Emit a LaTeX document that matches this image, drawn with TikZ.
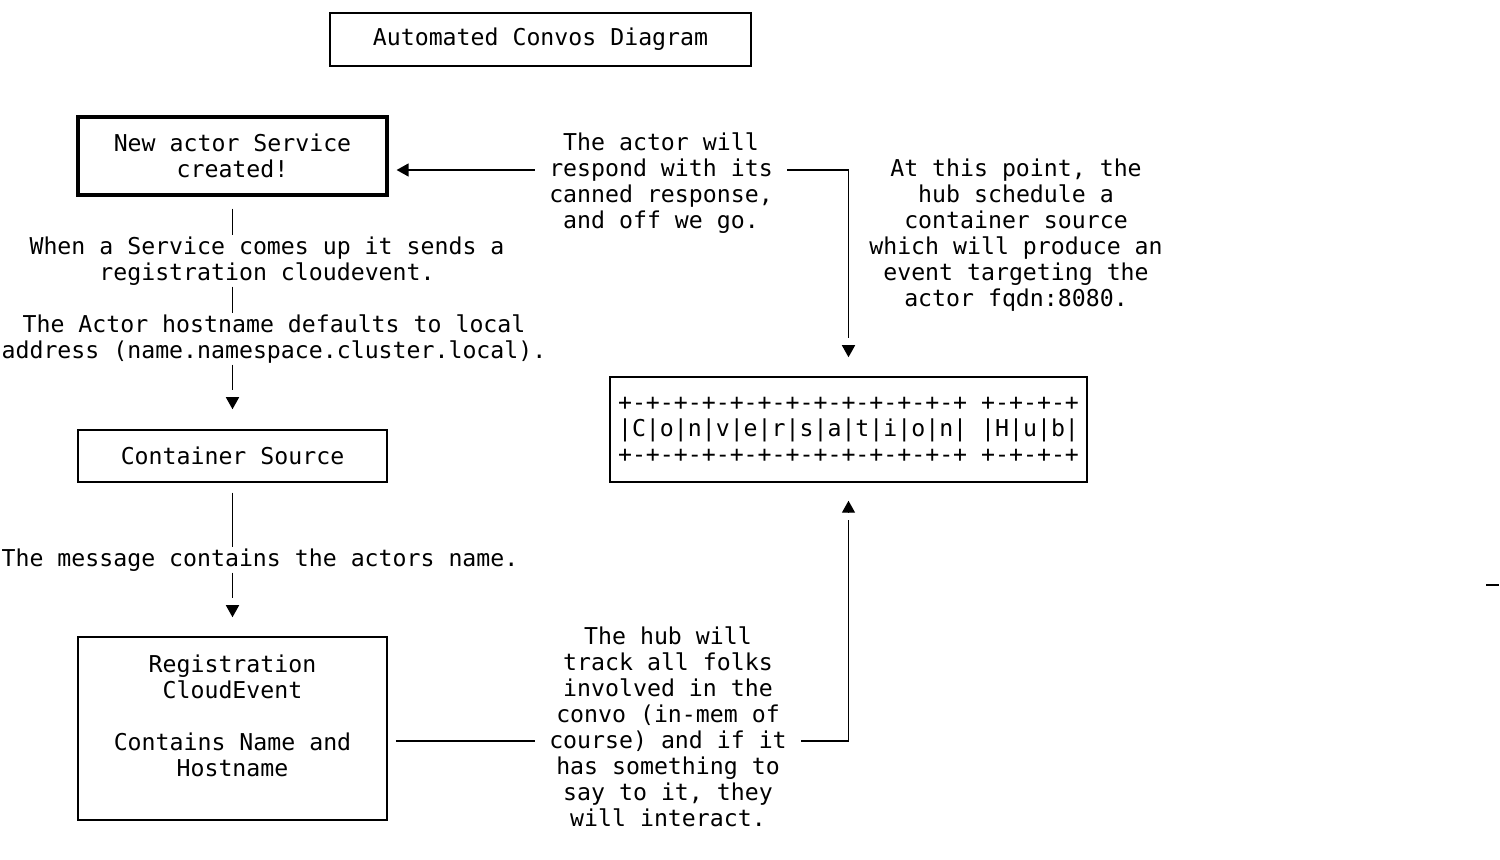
\documentclass[tikz,border=0pt]{standalone}
\usepackage{fontspec}
\setmonofont{DejaVu Sans Mono}
\usetikzlibrary{arrows.meta}

\begin{document}
\begin{tikzpicture}[x=0.5pt, y=-0.5pt, font=\ttfamily\fontsize{11.6}{13}\selectfont,
    box/.style = {draw, line width=0.75pt, align=center, inner sep=0pt},
    note/.style = {align=center, inner xsep=3pt, inner ysep=0.5pt},
    wire/.style = {line width=0.7pt},
    tip/.style = {-{Triangle[width=6.5pt,length=6pt]}},
    vtip/.style = {-{Rectangle[color=white,fill=white,length=3.5pt,width=0.1pt] Triangle[width=6.5pt,length=6pt]}}]
  \useasboundingbox (0,0) rectangle (1500,860);

  %% boxes
  \node[box, minimum width=210.5pt, minimum height=26.5pt] (title) at (540.5,39.5)
       {Automated Convos Diagram};
  \node[box, line width=1.6pt, minimum width=154.5pt, minimum height=39pt] (newactor) at (232.5,156)
       {New actor Service\\created!};
  \node[box, minimum width=154.5pt, minimum height=26pt] (container) at (232.5,456)
       {Container Source};
  \node[box, minimum width=154.5pt, minimum height=91.5pt] (reg) at (232.5,728.5)
       {Registration\\CloudEvent\\ \\Contains Name and\\Hostname\\ };
  \node[box, minimum width=238.5pt, minimum height=52.5pt] (hub) at (848.5,429.5)
       {+-+-+-+-+-+-+-+-+-+-+-+-+ +-+-+-+\\|C|o|n|v|e|r|s|a|t|i|o|n| |H|u|b|\\+-+-+-+-+-+-+-+-+-+-+-+-+ +-+-+-+};

  %% texts
  \node[note] (txt1) at (267,261) {When a Service comes up it sends a\\registration cloudevent.};
  \node[note] (txt2) at (274,339) {The Actor hostname defaults to local\\address (name.namespace.cluster.local).};
  \node[note] (txt3) at (260,560) {The message contains the actors name.};
  \node[note] (txt4) at (661,183) {The actor will\\respond with its\\canned response,\\and off we go.};
  \node[note] (txt5) at (1016,235) {At this point, the\\hub schedule a\\container source\\which will produce an\\event targeting the\\actor fqdn:8080.};
  \node[note] (txt6) at (668,727) {The hub will\\track all folks\\involved in the\\convo (in-mem of\\course) and if it\\has something to\\say to it, they\\will interact.};

  %% left column
  \draw[wire, shorten <=6pt] (newactor.south) -- (newactor.south |- txt1.north);
  \draw[wire] (newactor.south |- txt1.south) -- (newactor.south |- txt2.north);
  \draw[wire, vtip, shorten >=10pt] (newactor.south |- txt2.south) -- (container.north);

  \draw[wire, shorten <=5pt] (container.south) -- (container.south |- txt3.north);
  \draw[wire, vtip, shorten >=9.5pt] (container.south |- txt3.south) -- (reg.north);

  %% right side
  \coordinate (resp) at ([yshift=6.5pt]txt4.west);
  \draw[wire, tip, shorten <=4pt, shorten >=4pt] (resp) -- (resp -| newactor.east);
  \draw[wire, vtip, shorten <=4pt, shorten >=9.5pt] ([yshift=6.5pt]txt4.east) -| (hub.north);

  \coordinate (talk) at ([yshift=-7pt]txt6.west);
  \draw[wire, shorten <=4pt, shorten >=4pt] (reg.east |- talk) -- (talk);
  \draw[wire, vtip, shorten <=4pt, shorten >=9pt] ([yshift=-7pt]txt6.east) -| (hub.south);

  \draw[line width=1pt] (1486,585) -- (1499,585);

\end{tikzpicture}
\end{document}
